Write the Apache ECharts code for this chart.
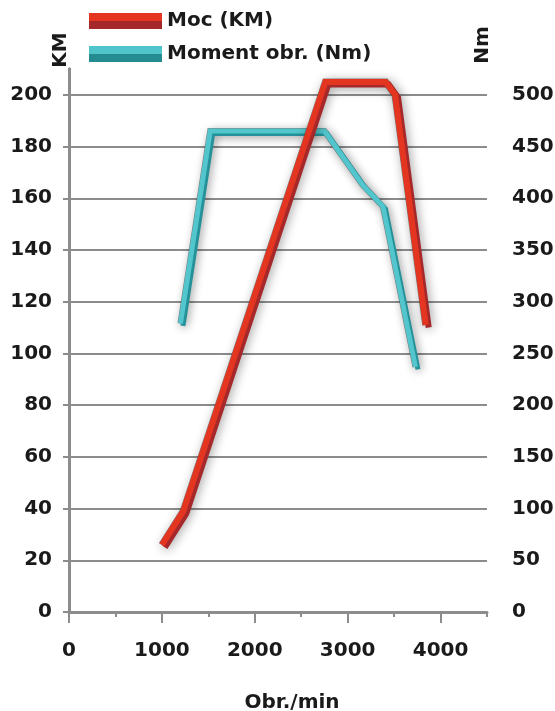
<!DOCTYPE html>
<html>
<head>
<meta charset="utf-8">
<script src="https://cdn.jsdelivr.net/npm/echarts@6/dist/echarts.min.js"></script>
<style>
  html, body { margin: 0; padding: 0; background: #ffffff; }
  #chart { width: 555px; height: 711px; }
</style>
</head>
<body>
<div id="chart"></div>
<script>
// ---- data ----
const rpmPower = [1000, 1230, 2760, 3410, 3510, 3840];
const powerKM = [26, 39, 205, 205, 200, 111];
const rpmTorque = [1200, 1520, 2750, 3160, 3380, 3730];
const torqueNm = [279, 465, 465, 413, 392, 237];
const kmTicks = [0, 20, 40, 60, 80, 100, 120, 140, 160, 180, 200];
const nmTicks = [0, 50, 100, 150, 200, 250, 300, 350, 400, 450, 500];
const rpmTicks = [0, 1000, 2000, 3000, 4000];
const seriesNames = ['Moc (KM)', 'Moment obr. (Nm)'];
const axisNames = ['KM', 'Nm', 'Obr./min'];

const FONT = 'DejaVu Sans';
const TXT = '#1a1a1a';
const GRAY = '#8c8c8c';

const powerData = rpmPower.map((r, i) => [r, powerKM[i]]);
const torqueData = rpmTorque.map((r, i) => [r, torqueNm[i]]);

function twoTone(top, bottom) {
  return {
    type: 'linear', x: 0, y: 0, x2: 0, y2: 1,
    colorStops: [
      { offset: 0, color: top }, { offset: 0.5, color: top },
      { offset: 0.5, color: bottom }, { offset: 1, color: bottom }
    ]
  };
}

const labelFont = { fontFamily: FONT, fontWeight: 'bold', fontSize: 20, color: TXT };

const chart = echarts.init(document.getElementById('chart'), null, { renderer: 'canvas' });
chart.setOption({
  animation: false,
  backgroundColor: '#ffffff',
  grid: { left: 69, right: 68, top: 69, bottom: 99, containLabel: false, outerBoundsMode: 'none' },
  legend: {
    orient: 'vertical', left: 84, top: 6,
    itemWidth: 73, itemHeight: 16, itemGap: 13,
    icon: 'rect', selectedMode: false,
    textStyle: labelFont,
    data: [
      { name: seriesNames[0], itemStyle: { color: twoTone('#e53620', '#a5292a') } },
      { name: seriesNames[1], itemStyle: { color: twoTone('#4fc4ca', '#248c90') } }
    ]
  },
  graphic: [
    { type: 'text', x: 61, y: 50, rotation: Math.PI / 2,
      style: { text: axisNames[0], font: 'bold 20px "DejaVu Sans"', fill: TXT, align: 'center', verticalAlign: 'middle' } },
    { type: 'text', x: 483, y: 45, rotation: Math.PI / 2,
      style: { text: axisNames[1], font: 'bold 20px "DejaVu Sans"', fill: TXT, align: 'center', verticalAlign: 'middle' } }
  ],
  xAxis: [
    {
      type: 'value', min: 0, max: 4500, interval: 1000, position: 'bottom',
      name: axisNames[2], nameLocation: 'middle', nameGap: 81,
      nameTextStyle: Object.assign({}, labelFont, { padding: [0, 0, 0, 28] }),
      axisLine: { show: true, onZero: false, lineStyle: { color: GRAY, width: 3 } },
      axisTick: { show: true, inside: false, length: 11, lineStyle: { color: GRAY, width: 2 } },
      axisLabel: Object.assign({}, labelFont, { margin: 29, showMaxLabel: false,
        formatter: v => rpmTicks.indexOf(v) >= 0 ? String(v) : '' }),
      splitLine: { show: false }
    },
    {
      type: 'value', min: 0, max: 4500, interval: 500, position: 'bottom',
      axisLine: { show: false },
      axisTick: { show: true, inside: false, length: 5, lineStyle: { color: GRAY, width: 2 } },
      axisLabel: { show: false },
      splitLine: { show: false }
    }
  ],
  yAxis: [
    {
      type: 'value', min: 0, max: 210, interval: 20, position: 'left',
      axisLine: { show: true, lineStyle: { color: GRAY, width: 3 } },
      axisTick: { show: true, length: 6, customValues: kmTicks, lineStyle: { color: GRAY, width: 2 } },
      axisLabel: Object.assign({}, labelFont, { margin: 17, customValues: kmTicks }),
      splitLine: { show: true, lineStyle: { color: GRAY, width: 2 } }
    },
    {
      type: 'value', min: 0, max: 525, interval: 50, position: 'right',
      axisLine: { show: true, lineStyle: { color: GRAY, width: 3 } },
      axisTick: { show: true, length: 5, customValues: nmTicks, lineStyle: { color: GRAY, width: 2 } },
      axisLabel: Object.assign({}, labelFont, { margin: 25, customValues: nmTicks }),
      splitLine: { show: false }
    }
  ],
  series: [
    {
      name: 'torque-shadow', type: 'line', xAxisIndex: 0, yAxisIndex: 1,
      data: torqueData, symbol: 'none', silent: true,
      lineStyle: { color: 'rgba(60,60,60,0.6)', width: 6, join: 'miter', cap: 'butt',
        shadowColor: 'rgba(0,0,0,0.8)', shadowBlur: 10, shadowOffsetX: 3, shadowOffsetY: 3 }
    },
    {
      name: seriesNames[1], type: 'line', xAxisIndex: 0, yAxisIndex: 1,
      data: torqueData, symbol: 'none',
      itemStyle: { color: '#4fc4ca' },
      lineStyle: { color: '#52c6cc', width: 5, join: 'miter', cap: 'butt',
        shadowColor: '#25929a', shadowBlur: 0, shadowOffsetX: 2.5, shadowOffsetY: 2.5 }
    },
    {
      name: 'power-shadow', type: 'line', xAxisIndex: 0, yAxisIndex: 0,
      data: powerData, symbol: 'none', silent: true,
      lineStyle: { color: 'rgba(60,60,60,0.6)', width: 7, join: 'miter', cap: 'butt',
        shadowColor: 'rgba(0,0,0,0.8)', shadowBlur: 11, shadowOffsetX: 3, shadowOffsetY: 3 }
    },
    {
      name: seriesNames[0], type: 'line', xAxisIndex: 0, yAxisIndex: 0,
      data: powerData, symbol: 'none',
      itemStyle: { color: '#e53620' },
      lineStyle: { color: '#e33520', width: 6, join: 'miter', cap: 'butt',
        shadowColor: '#a6282a', shadowBlur: 0, shadowOffsetX: 3, shadowOffsetY: 2.5 }
    }
  ]
});
</script>
</body>
</html>
